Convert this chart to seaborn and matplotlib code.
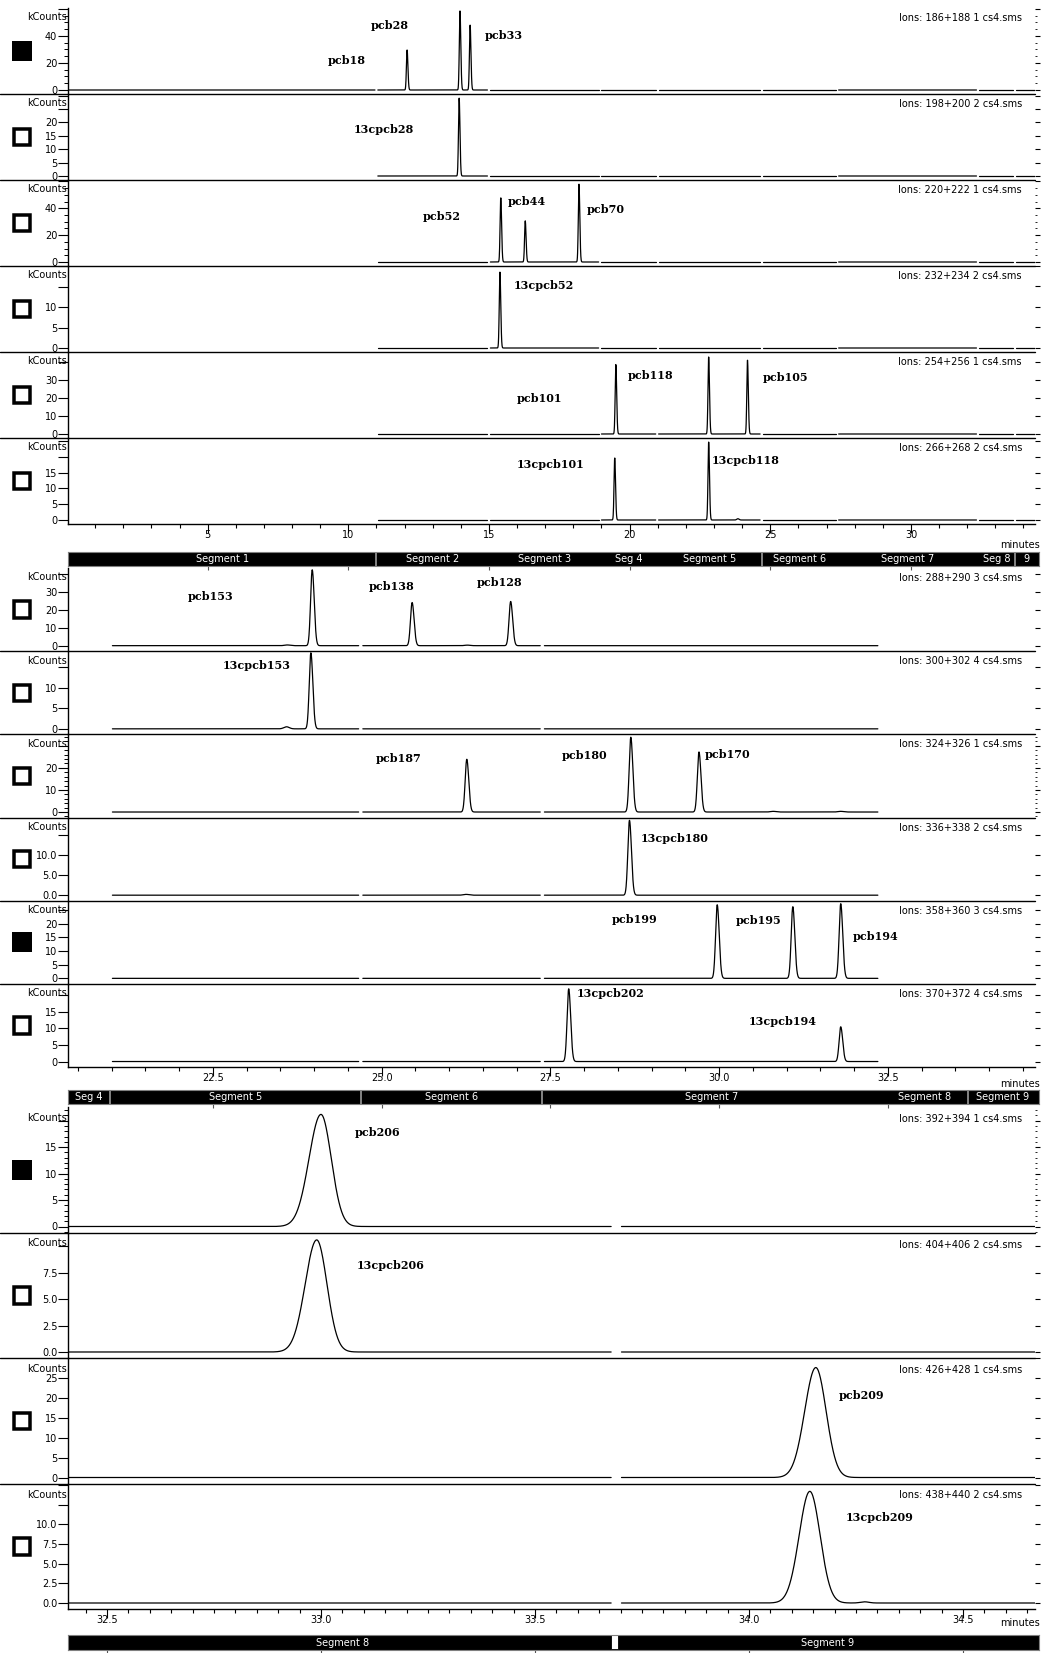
import numpy as np
import pandas as pd
import matplotlib
matplotlib.use("Agg")
import matplotlib.pyplot as plt
import seaborn as sns
from matplotlib.lines import Line2D
from matplotlib.patches import Rectangle
from matplotlib.ticker import MultipleLocator, FuncFormatter, NullFormatter

# ------------------------------------------------------------------ data
# acquisition segments (minutes)
seg_edges = [0.0, 11.0, 15.0, 18.95, 20.98, 24.69, 27.38, 32.38, 33.69, 34.70]
seg_names_1 = ["Segment 1", "Segment 2", "Segment 3", "Seg 4", "Segment 5",
               "Segment 6", "Segment 7", "Seg 8", "9"]
seg_names_2 = ["", "", "", "Seg 4", "Segment 5", "Segment 6", "Segment 7",
               "Segment 8", "Segment 9"]
seg_names_3 = ["", "", "", "", "", "", "", "Segment 8", "Segment 9"]

# window 1: tri- to penta-chlorinated congeners
ions_1 = ["Ions: 186+188 1 cs4.sms", "Ions: 198+200 2 cs4.sms",
          "Ions: 220+222 1 cs4.sms", "Ions: 232+234 2 cs4.sms",
          "Ions: 254+256 1 cs4.sms", "Ions: 266+268 2 cs4.sms"]
names_1 = [["pcb18", "pcb28", "pcb33"], ["13cpcb28"],
           ["pcb52", "pcb44", "pcb70"], ["13cpcb52"],
           ["pcb101", "pcb118", "pcb105"], ["13cpcb101", "13cpcb118", ""]]
rt_1 = [[12.09, 13.97, 14.33], [13.94], [15.42, 16.29, 18.20], [15.39],
        [19.51, 22.81, 24.19], [19.47, 22.81, 23.85]]
height_1 = [[29.6, 58.5, 48.0], [29.1], [47.8, 30.6, 58.0], [18.5],
            [38.9, 43.0, 41.2], [19.7, 24.7, 0.4]]
ytop_1 = [60.7, 30.6, 61.0, 20.0, 45.8, 26.0]

# window 2: hexa- to octa-chlorinated congeners
ions_2 = ["Ions: 288+290 3 cs4.sms", "Ions: 300+302 4 cs4.sms",
          "Ions: 324+326 1 cs4.sms", "Ions: 336+338 2 cs4.sms",
          "Ions: 358+360 3 cs4.sms", "Ions: 370+372 4 cs4.sms"]
names_2 = [["pcb153", "pcb138", "pcb128", "", ""], ["13cpcb153", ""],
           ["pcb187", "pcb180", "pcb170", "", ""], ["13cpcb180", ""],
           ["pcb199", "pcb195", "pcb194"], ["13cpcb202", "13cpcb194"]]
rt_2 = [[23.97, 25.45, 26.91, 23.60, 26.27], [23.95, 23.59],
        [26.26, 28.69, 29.70, 30.80, 31.80], [28.67, 26.25],
        [29.97, 31.09, 31.80], [27.77, 31.80]]
height_2 = [[42.4, 24.1, 24.7, 0.4, 0.3], [18.5, 0.5],
            [23.9, 33.9, 27.2, 0.3, 0.3], [18.7, 0.2],
            [26.9, 26.2, 27.3], [22.0, 10.5]]
ytop_2 = [43.4, 18.9, 35.2, 19.4, 28.4, 23.5]

# window 3: nona- and deca-chlorinated congeners
ions_3 = ["Ions: 392+394 1 cs4.sms", "Ions: 404+406 2 cs4.sms",
          "Ions: 426+428 1 cs4.sms", "Ions: 438+440 2 cs4.sms"]
names_3 = [["pcb206"], ["13cpcb206"], ["pcb209"], ["13cpcb209", ""]]
rt_3 = [[33.00], [32.99], [34.156], [34.142, 34.27]]
height_3 = [[21.2], [10.6], [27.6], [14.2, 0.15]]
sig_left_3 = [[0.028], [0.027], [0.026], [0.025, 0.01]]
sig_right_3 = [[0.024], [0.024], [0.024], [0.024, 0.01]]
ytop_3 = [22.6, 11.3, 30.0, 15.2]

# narrow peaks in windows 1 and 2 (left / right sigma, minutes)
sharp_sigma = (0.024, 0.029)

# peak label anchors (minutes, kCounts)
label_xy = {
    "pcb18": (9.95, 21.5), "pcb28": (11.48, 48.1), "pcb33": (15.54, 40.7),
    "13cpcb28": (11.27, 17.5),
    "pcb52": (13.32, 33.7), "pcb44": (16.36, 44.7), "pcb70": (19.14, 39.2),
    "13cpcb52": (16.96, 15.2),
    "pcb101": (16.78, 20.0), "pcb118": (20.75, 32.4), "pcb105": (25.55, 31.8),
    "13cpcb101": (17.19, 17.7), "13cpcb118": (24.12, 19.0),
    "pcb153": (22.47, 27.7), "pcb138": (25.14, 33.0), "pcb128": (26.75, 35.4),
    "13cpcb153": (23.15, 15.4),
    "pcb187": (25.25, 24.3), "pcb180": (28.01, 25.8), "pcb170": (30.12, 26.2),
    "13cpcb180": (29.34, 14.2),
    "pcb199": (28.75, 21.5), "pcb195": (30.58, 21.2), "pcb194": (32.31, 15.4),
    "13cpcb202": (28.39, 20.5), "13cpcb194": (30.94, 12.1),
    "pcb206": (33.133, 17.7), "13cpcb206": (33.163, 8.2),
    "pcb209": (34.263, 20.6), "13cpcb209": (34.305, 10.9),
}

filled_1 = [True, False, False, False, False, False]
filled_2 = [False, False, False, False, True, False]
filled_3 = [True, False, False, False]

# y tick layout per panel: (major step, last labelled value, minor step, decimals)
yticks_1 = [(20, 40, 5, 0), (5, 20, None, 0), (20, 40, 5, 0), (5, 10, None, 0),
            (10, 30, None, 0), (5, 15, None, 0)]
yticks_2 = [(10, 30, None, 0), (5, 10, None, 0), (10, 20, 2, 0), (5, 10, None, 1),
            (5, 20, None, 0), (5, 15, None, 0)]
yticks_3 = [(5, 15, 1, 0), (2.5, 7.5, None, 1), (5, 25, None, 0), (2.5, 10, None, 1)]

# ------------------------------------------------------------------ layout
W, H, DPI = 1044, 1653, 100
AX_L, AX_R = 68, 1035
PX = 72.0 / DPI  # points per pixel

sns.set_theme(style="ticks")
plt.rcParams["font.family"] = ["DejaVu Sans"]
plt.rcParams["axes.linewidth"] = 1.0

fig = plt.figure(figsize=(W / DPI, H / DPI), dpi=DPI)
fig.patch.set_facecolor("white")


def rect(left, top, width, height):
    return [left / W, 1 - (top + height) / H, width / W, height / H]


def fig_line(x0, x1, y, **kw):
    fig.add_artist(Line2D([x0 / W, x1 / W], [1 - y / H, 1 - y / H],
                          transform=fig.transFigure, **kw))


blocks = [
    dict(top=8, ph=86.0, zero=4.0, xlim=(0.036, 34.41), major=5, minor=1, dec=0,
         bar_top=552, bar_h=14, bar_right=1039, minutes_y=545, ions_dy=10,
         kc_dy=9.5, gap=0.05, step=0.004, names=seg_names_1, dividers=[1, 5, 8],
         ions=ions_1, peaks=names_1, rt=rt_1, height=height_1, ytop=ytop_1,
         filled=filled_1, yticks=yticks_1, sl=None, sr=None),
    dict(top=568, ph=83.17, zero=5.5, xlim=(20.352, 34.678), major=2.5, minor=0.5,
         dec=1, bar_top=1090, bar_h=14, bar_right=1039, minutes_y=1084, ions_dy=10,
         kc_dy=9.5, gap=0.03, step=0.002, names=seg_names_2, dividers=[4, 5, 6, 8],
         ions=ions_2, peaks=names_2, rt=rt_2, height=height_2, ytop=ytop_2,
         filled=filled_2, yticks=yticks_2, sl=None, sr=None),
    dict(top=1107, ph=125.5, zero=6.0, xlim=(32.409, 34.668), major=0.5, minor=0.05,
         dec=1, bar_top=1635, bar_h=15, bar_right=1039, minutes_y=1623, ions_dy=12,
         kc_dy=11, gap=0.012, step=0.0008, names=seg_names_3, dividers=[],
         ions=ions_3, peaks=names_3, rt=rt_3, height=height_3, ytop=ytop_3,
         filled=filled_3, yticks=yticks_3, sl=sig_left_3, sr=sig_right_3),
]

# which acquisition segments each trace covers
traced = [
    [range(0, 9)] + [range(1, 9)] * 5,
    [range(4, 7)] * 6,
    [range(7, 9)] * 4,
]


def trace_frame(b, k, segs):
    x0, x1 = b["xlim"]
    rows = []
    for s in segs:
        a = max(seg_edges[s] + b["gap"], x0)
        e = min(seg_edges[s + 1] - b["gap"], x1)
        if s == 0:
            a = x0
        if e <= a:
            continue
        t = np.arange(a, e, b["step"])
        y = np.zeros_like(t)
        for j, (r, h) in enumerate(zip(b["rt"][k], b["height"][k])):
            if b["sl"] is None:
                sl, sr = sharp_sigma
                if h < 2:
                    sl, sr = 0.04, 0.04
            else:
                sl, sr = b["sl"][k][j], b["sr"][k][j]
            s_arr = np.where(t < r, sl, sr)
            y += h * np.exp(-0.5 * ((t - r) / s_arr) ** 2)
        rows.append(pd.DataFrame({"t": t, "kcounts": y, "piece": s}))
    return pd.concat(rows, ignore_index=True)


for bi, b in enumerate(blocks):
    n = len(b["ions"])
    ppm = (AX_R - AX_L) / (b["xlim"][1] - b["xlim"][0])
    for k in range(n):
        top = b["top"] + k * b["ph"]
        ax = fig.add_axes(rect(AX_L, top, AX_R - AX_L, b["ph"]))
        df = trace_frame(b, k, traced[bi][k])
        sns.lineplot(data=df, x="t", y="kcounts", units="piece", estimator=None,
                     color="black", linewidth=0.9, ax=ax, legend=False)
        ytop = b["ytop"][k]
        ybot = -ytop * b["zero"] / (b["ph"] - b["zero"])
        ax.set_xlim(*b["xlim"])
        ax.set_ylim(ybot, ytop)
        ax.set_xlabel("")
        ax.set_ylabel("")
        ax.set_facecolor("none")
        for sp in ("top", "right"):
            ax.spines[sp].set_visible(False)
        ax.spines["left"].set_color("black")

        step, lab_max, minor, dec = b["yticks"][k]
        ax.yaxis.set_major_locator(MultipleLocator(step))
        ax.yaxis.set_major_formatter(FuncFormatter(
            lambda v, p, m=lab_max, d=dec: f"{v:.{d}f}" if -1e-6 <= v <= m + 1e-6 else ""))
        ax.tick_params(axis="y", which="major", direction="out", length=10 * PX,
                       width=0.8, pad=0.5, labelsize=7, colors="black")
        if minor:
            ax.yaxis.set_minor_locator(MultipleLocator(minor))
            ax.tick_params(axis="y", which="minor", direction="out", length=4.5 * PX,
                           width=0.7, colors="black")
        sec = ax.secondary_yaxis("right")
        sec.yaxis.set_major_locator(MultipleLocator(step))
        sec.yaxis.set_major_formatter(NullFormatter())
        sec.tick_params(axis="y", which="major", length=5 * PX, width=0.8, colors="black")
        if minor:
            sec.yaxis.set_minor_locator(MultipleLocator(minor))
            sec.tick_params(axis="y", which="minor", length=2.5 * PX, width=0.7)
        sec.spines["right"].set_visible(False)

        last = k == n - 1
        if last:
            ax.spines["bottom"].set_color("black")
            ax.xaxis.set_major_locator(MultipleLocator(b["major"]))
            ax.xaxis.set_minor_locator(MultipleLocator(b["minor"]))
            ax.xaxis.set_major_formatter(FuncFormatter(
                lambda v, p, d=b["dec"]: f"{v:.{d}f}"))
            ax.tick_params(axis="x", which="major", direction="out", length=9 * PX,
                           width=0.8, pad=-2.5, labelsize=7, colors="black")
            ax.tick_params(axis="x", which="minor", direction="out", length=4 * PX,
                           width=0.8, colors="black")
        else:
            ax.spines["bottom"].set_visible(False)
            ax.tick_params(axis="x", which="both", bottom=False, labelbottom=False)
            fig_line(0, AX_R, top + b["ph"], color="black", lw=1.0)

        # peak names
        for name in b["peaks"][k]:
            if name:
                lx, ly = label_xy[name]
                ax.text(lx, ly, name, ha="center", va="center", fontsize=8,
                        fontweight="bold", family="DejaVu Serif", color="black")

        # panel captions
        fig.text(1022 / W, 1 - (top + b["ions_dy"]) / H, b["ions"][k],
                 ha="right", va="center", fontsize=7, color="black")
        fig.text(67 / W, 1 - (top + b["kc_dy"]) / H, "kCounts",
                 ha="right", va="center", fontsize=7, color="black")

        # selection square
        cy = top + b["ph"] / 2
        sq = 20
        if b["filled"][k]:
            fig.add_artist(Rectangle((12 / W, 1 - (cy + sq / 2) / H), sq / W, sq / H,
                                     transform=fig.transFigure, facecolor="black",
                                     edgecolor="black", lw=0))
        else:
            lw_px = 3.5
            fig.add_artist(Rectangle(((12 + lw_px / 2) / W, 1 - (cy + sq / 2 - lw_px / 2) / H),
                                     (sq - lw_px) / W, (sq - lw_px) / H,
                                     transform=fig.transFigure, facecolor="white",
                                     edgecolor="black", lw=lw_px * PX))

    # "minutes" caption
    fig.text(1040 / W, 1 - b["minutes_y"] / H, "minutes", ha="right", va="center",
             fontsize=7, color="black")

    # segment bar
    bar_w = b["bar_right"] - AX_L
    bx = fig.add_axes(rect(AX_L, b["bar_top"], bar_w, b["bar_h"]))
    x0 = b["xlim"][0]
    x1 = x0 + bar_w / ppm
    bx.set_xlim(x0, x1)
    bx.set_ylim(0, 1)
    bx.set_facecolor("black")
    for sp in bx.spines.values():
        sp.set_color("#808080")
        sp.set_linewidth(0.8)
    bx.set_yticks([])
    bx.xaxis.set_major_locator(MultipleLocator(b["major"]))
    bx.xaxis.set_major_formatter(NullFormatter())
    bx.tick_params(axis="x", which="major", direction="out", length=3.5 * PX,
                   width=0.8, colors="#555555")
    for s, nm in enumerate(b["names"]):
        a = max(seg_edges[s], x0)
        e = min(seg_edges[s + 1], x1)
        if nm and e > a:
            bx.text((a + e) / 2, 0.5, nm, ha="center", va="center", color="white",
                    fontsize=7)
    for d in b["dividers"]:
        bx.axvline(seg_edges[d], color="#9a9a9a", lw=1.2)
    if bi == 2:
        bx.axvspan(seg_edges[8] - 0.013, seg_edges[8] + 0.005, ymin=0.1, ymax=1.0,
                   facecolor="white", edgecolor="black", lw=0.6)

fig.savefig("out.png", dpi=DPI, facecolor="white")
